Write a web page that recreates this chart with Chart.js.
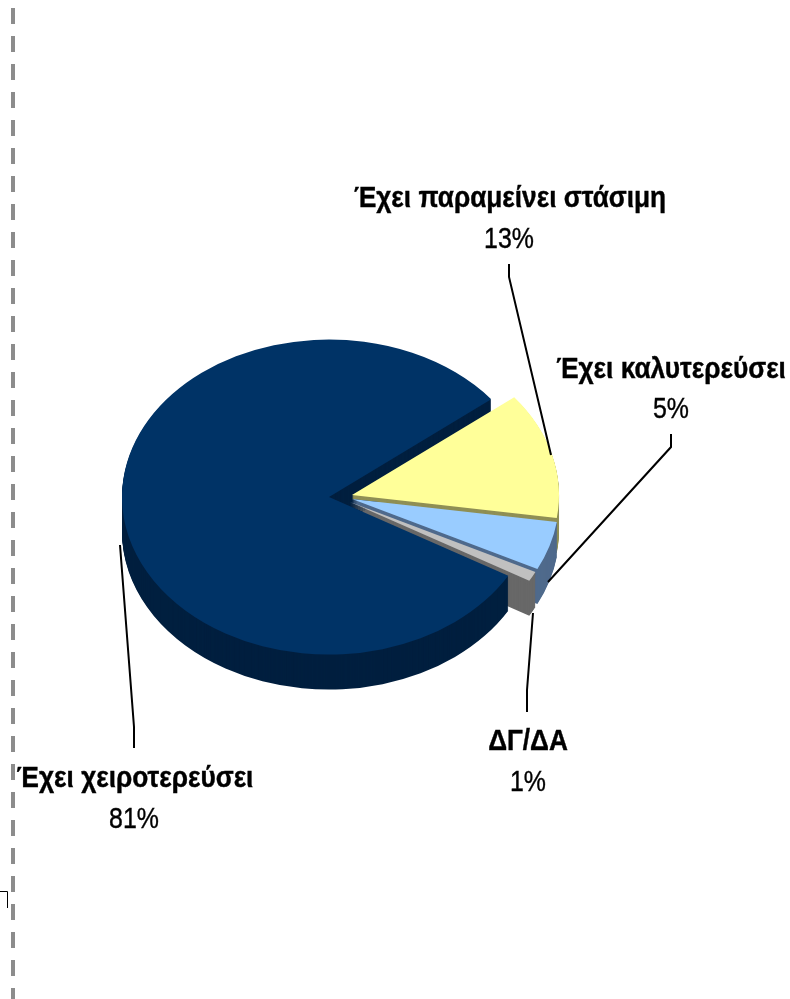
<!DOCTYPE html>
<html>
<head>
<meta charset="utf-8">
<style>
  html, body { margin: 0; padding: 0; background: #fff; overflow: hidden; }
  canvas { display: block; }
</style>
<script src="https://cdn.jsdelivr.net/npm/chart.js@4"></script>
</head>
<body>
<canvas id="graf" width="790" height="999"></canvas>
<script>
const kategorije = ['Έχει χειροτερεύσει', 'Έχει παραμείνει στάσιμη', 'Έχει καλυτερεύσει', 'ΔΓ/ΔΑ'];
const vrijednosti = [81, 13, 5, 1];

const bojeGore = ['#003366', '#FFFF99', '#99CCFF', '#C0C0C0'];
const bojeStrana = ['#001F3F', '#8F8F55', '#4F6A8C', '#686868'];

// pomak isjecka od sredista (eksplozija), u pikselima
const pomakX = [0, 23, 23, 21];
const pomakY = [0, -2, 2, 5];
const dubina = 35;
const tankaStrana = 4;
const spljostenost = 0.761;

// gdje stoje natpisi: [x sredista, baseline naziva, x postotka, baseline postotka]
const natpisi = [
    [135, 787, 134, 828],
    [510, 207, 509, 248],
    [671, 378, 671, 418],
    [528, 750, 528, 791]
];
// linije od natpisa do isjecka
const linije = [
    [[134, 748], [134, 727], [120, 545]],
    [[509, 264], [509, 277], [551, 455]],
    [[671, 434], [671, 447], [548, 582]],
    [[527, 712], [527, 690], [533, 613]]
];

// uzak font ne postoji pa se tekst sabija vodoravno i malo deblja obrubom
function tekst(ctx, t, x, y, font, sabij, obrub) {
    ctx.save();
    ctx.font = font;
    ctx.translate(x, y);
    ctx.scale(sabij, 1);
    ctx.fillText(t, 0, 0);
    ctx.lineWidth = obrub;
    ctx.strokeText(t, 0, 0);
    ctx.restore();
}

const pie3d = {
    id: 'pie3d',
    beforeDatasetDraw(chart, args) {
        const ctx = chart.ctx;
        const lukovi = args.meta.data;
        const crtaj = (arc, i, dy) => {
            ctx.save();
            ctx.translate(arc.x + pomakX[i], arc.y + pomakY[i] + dy);
            ctx.scale(1, spljostenost);
            ctx.translate(-arc.x, -arc.y);
            arc.draw(ctx);
            ctx.restore();
        };
        const strana = (i, doDubine) => {
            const arc = lukovi[i];
            const opcije = arc.options;
            arc.options = Object.assign({}, opcije, { backgroundColor: bojeStrana[i] });
            for (let dy = doDubine; dy > 0; dy--) crtaj(arc, i, dy);
            arc.options = opcije;
        };
        // strane: tamnoplavi ide preko sivog, a tanki rubovi ostalih opet preko njega
        [1, 2, 3, 0].forEach(i => strana(i, dubina));
        [1, 2, 3].forEach(i => strana(i, tankaStrana));
        lukovi.forEach((arc, i) => crtaj(arc, i, 0));
        return false;
    },
    afterDraw(chart) {
        const ctx = chart.ctx;
        ctx.save();

        // isprekidana linija lijevo
        ctx.strokeStyle = '#8C8C8C';
        ctx.lineWidth = 4;
        ctx.setLineDash([16, 12]);
        ctx.beginPath();
        ctx.moveTo(13, 8);
        ctx.lineTo(13, 999);
        ctx.stroke();
        ctx.setLineDash([]);

        // ostatak okvira dolje lijevo
        ctx.strokeStyle = '#000';
        ctx.lineWidth = 1;
        ctx.beginPath();
        ctx.moveTo(0, 891.5);
        ctx.lineTo(7.5, 891.5);
        ctx.lineTo(7.5, 908);
        ctx.stroke();

        ctx.lineWidth = 2;
        linije.forEach(l => {
            ctx.beginPath();
            l.forEach((t, i) => i ? ctx.lineTo(t[0], t[1]) : ctx.moveTo(t[0], t[1]));
            ctx.stroke();
        });

        ctx.fillStyle = '#000';
        ctx.textAlign = 'center';
        kategorije.forEach((naziv, i) => {
            const [x1, y1, x2, y2] = natpisi[i];
            tekst(ctx, naziv, x1, y1, 'bold 29px "Liberation Sans"', 0.905, 0.4);
            tekst(ctx, vrijednosti[i] + '%', x2, y2, '30px "Liberation Sans"', 0.83, 0.4);
        });
        ctx.restore();
    }
};

const ctx = document.getElementById('graf').getContext('2d');
new Chart(ctx, {
    type: 'pie',
    data: {
        labels: kategorije,
        datasets: [{
            data: vrijednosti,
            backgroundColor: bojeGore,
            borderWidth: 0
        }]
    },
    options: {
        responsive: false,
        animation: false,
        rotation: 120,
        layout: { padding: { left: 122, right: 254, top: 290, bottom: 295 } },
        plugins: { legend: { display: false }, tooltip: { enabled: false } }
    },
    plugins: [pie3d]
});
</script>
</body>
</html>
